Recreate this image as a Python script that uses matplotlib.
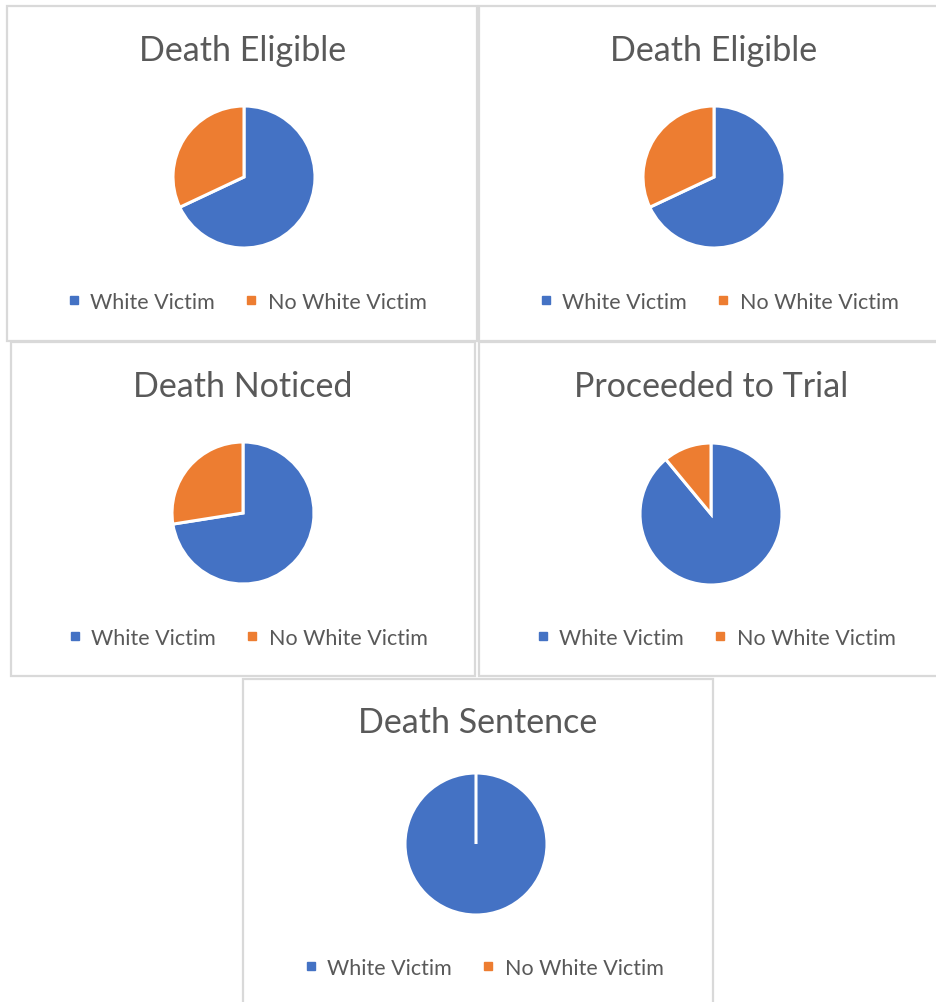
import matplotlib
matplotlib.use("Agg")
import matplotlib.pyplot as plt
from matplotlib.patches import Rectangle
from matplotlib.lines import Line2D

plt.rcParams['font.family'] = ['Lato', 'DejaVu Sans']

titles = ["Death Eligible", "Death Eligible", "Death Noticed", "Proceeded to Trial", "Death Sentence"]
labels = ["White Victim", "No White Victim"]
white_victim = [68, 68, 72.5, 89, 100]
no_white_victim = [32, 32, 27.5, 11, 0]
colors = ["#4472C4", "#ED7D31"]

W, H = 936, 1003
fig = plt.figure(figsize=(W / 100, H / 100), dpi=100)

# layout in pixels
panels = [(7, 7, 477, 342), (479, 7, 942, 342), (11, 343, 475, 677),
          (479, 343, 942, 677), (243, 680, 713, 1010)]
title_pos = [(243, 51), (714, 51), (243, 387), (711, 387), (478, 723)]
pie_pos = [(244, 178), (714, 178), (243, 514), (711, 515), (476, 845)]
legend_pos = [(247, 303), (719, 303), (248, 639), (716, 639), (484, 969)]
R = 71
TXT = "#595959"

def fx(x):
    return x / W

def fy(y):
    return 1 - y / H

for i in range(5):
    x0, y0, x1, y1 = panels[i]
    fig.patches.append(Rectangle((fx(x0), fy(y1)), fx(x1 - x0), (y1 - y0) / H,
                                 transform=fig.transFigure, facecolor="white",
                                 edgecolor="#d9d9d9", linewidth=1.6, zorder=-5))
    tx, ty = title_pos[i]
    fig.text(fx(tx), fy(ty), titles[i], ha="center", va="center", fontsize=24.5, color=TXT)

    cx, cy = pie_pos[i]
    ax = fig.add_axes([fx(cx - R), fy(cy + R), 2 * R / W, 2 * R / H], zorder=2)
    ax.pie([white_victim[i], no_white_victim[i]], colors=colors, startangle=90,
           counterclock=False, wedgeprops=dict(edgecolor="white", linewidth=2.2))
    ax.set_xlim(-1, 1)
    ax.set_ylim(-1, 1)
    ax.set_aspect("equal")
    ax.axis("off")

    handles = [Line2D([], [], marker="s", linestyle="none", markersize=6,
                      markerfacecolor=c, markeredgecolor=c) for c in colors]
    lx, ly = legend_pos[i]
    fig.legend(handles, labels, loc="center", bbox_to_anchor=(fx(lx), fy(ly)),
               bbox_transform=fig.transFigure, ncol=2, frameon=False,
               fontsize=15.5, labelcolor=TXT, handlelength=0.6, handletextpad=0.45,
               columnspacing=1.4, borderpad=0, borderaxespad=0)

fig.savefig("out.png", dpi=100, facecolor="white")
